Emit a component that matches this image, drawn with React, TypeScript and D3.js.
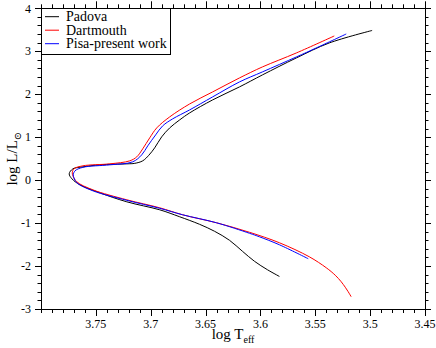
import React, { useEffect, useRef } from 'react';
import * as d3 from 'd3';

// isochrone tracks, [log Teff, log L/Lsun], from lower main sequence up to RGB tip
const padova: [number, number][] = [
  [3.5827, -2.242], [3.5936, -2.086], [3.6055, -1.888], [3.6164, -1.656], [3.6282, -1.400],
  [3.6418, -1.191], [3.6555, -1.028], [3.6736, -0.853], [3.6918, -0.691], [3.7218, -0.505],
  [3.7464, -0.295], [3.7645, -0.109], [3.7718, 0.030], [3.7743, 0.147], [3.7709, 0.263],
  [3.7618, 0.309], [3.7464, 0.356], [3.7218, 0.379], [3.7145, 0.391], [3.7073, 0.449],
  [3.7018, 0.577], [3.6964, 0.751], [3.6900, 1.007], [3.6827, 1.216], [3.6736, 1.402],
  [3.6645, 1.565], [3.6436, 1.867], [3.6191, 2.170], [3.5982, 2.449], [3.5673, 2.844],
  [3.5373, 3.193], [3.4982, 3.484],
];

const dartmouth: [number, number][] = [
  [3.5173, -2.714], [3.5200, -2.598], [3.5227, -2.493], [3.5264, -2.365], [3.5318, -2.214],
  [3.5400, -2.040], [3.5555, -1.784], [3.5827, -1.458], [3.6100, -1.214], [3.6400, -0.993],
  [3.6709, -0.807], [3.6918, -0.644], [3.7218, -0.458], [3.7527, -0.226], [3.7673, -0.040],
  [3.7709, 0.100], [3.7715, 0.170], [3.7700, 0.263], [3.7618, 0.333], [3.7373, 0.379],
  [3.7191, 0.449], [3.7127, 0.542], [3.7073, 0.728], [3.7009, 0.984], [3.6945, 1.216],
  [3.6827, 1.472], [3.6645, 1.774], [3.6436, 2.053], [3.6191, 2.379], [3.5982, 2.635],
  [3.5673, 2.960], [3.5327, 3.356],
];

const pisa: [number, number][] = [
  [3.5564, -1.830], [3.5827, -1.505], [3.6009, -1.319], [3.6100, -1.237], [3.6400, -0.993],
  [3.6709, -0.807], [3.6918, -0.656], [3.7218, -0.470], [3.7527, -0.249], [3.7673, -0.063],
  [3.7700, 0.053], [3.7706, 0.123], [3.7690, 0.216], [3.7618, 0.298], [3.7373, 0.356],
  [3.7164, 0.426], [3.7082, 0.588], [3.7027, 0.798], [3.6955, 1.053], [3.6891, 1.263],
  [3.6800, 1.426], [3.6645, 1.635], [3.6436, 1.937], [3.6191, 2.286], [3.5982, 2.519],
  [3.5673, 2.867], [3.5491, 3.077], [3.5218, 3.402],
];

const seriesNames = ['Padova', 'Dartmouth', 'Pisa-present work'];
const seriesColors = ['#000000', '#ff0000', '#0000ff'];
const xTickValues = [3.75, 3.7, 3.65, 3.6, 3.55, 3.5, 3.45];
const yTickValues = [-3, -2, -1, 0, 1, 2, 3, 4];

const W = 436;
const H = 348;
const FONT = 'Liberation Serif, DejaVu Serif, serif';

const App = () => {
  const svgRef = useRef<SVGSVGElement>(null);

  useEffect(() => {
    const svg = d3.select(svgRef.current);
    svg.selectAll('*').remove();

    const left = 41, right = 425, top = 8.3, bottom = 309;
    const x = d3.scaleLinear().domain([3.8, 3.45]).range([left, right]);
    const y = d3.scaleLinear().domain([-3, 4]).range([bottom, top]);

    svg.append('rect').attr('width', W).attr('height', H).attr('fill', '#fff');

    // minor + major ticks, all pointing outward
    const minorX = d3.range(0, 36).map(i => 3.45 + i * 0.01);
    const minorY = d3.range(0, 36).map(i => -3 + i * 0.2);
    const tickG = svg.append('g').attr('stroke', '#000').attr('stroke-width', 1);
    const isMajorX = (v: number) => xTickValues.some(t => Math.abs(t - v) < 1e-6);
    const isMajorY = (v: number) => yTickValues.some(t => Math.abs(t - v) < 1e-6);

    minorX.forEach(v => {
      const len = isMajorX(v) ? 7 : 4;
      const px = Math.round(x(v)) + 0.5;
      tickG.append('line').attr('x1', px).attr('x2', px).attr('y1', bottom).attr('y2', bottom + len);
      tickG.append('line').attr('x1', px).attr('x2', px).attr('y1', top).attr('y2', top - len);
    });
    minorY.forEach(v => {
      const len = isMajorY(v) ? 6 : 3.5;
      const py = Math.round(y(v)) + 0.5;
      tickG.append('line').attr('y1', py).attr('y2', py).attr('x1', left).attr('x2', left - len);
      tickG.append('line').attr('y1', py).attr('y2', py).attr('x1', right).attr('x2', right + len);
    });

    // tick labels
    svg.append('g').selectAll('text').data(xTickValues).enter().append('text')
      .attr('x', d => x(d)).attr('y', 328)
      .attr('text-anchor', 'middle')
      .attr('font-family', FONT).attr('font-size', 12)
      .text(d => String(d));

    svg.append('g').selectAll('text').data(yTickValues).enter().append('text')
      .attr('x', 31).attr('y', d => y(d)).attr('dy', '0.35em')
      .attr('text-anchor', 'end')
      .attr('font-family', FONT).attr('font-size', 12)
      .text(d => String(d));

    // curves
    const line = d3.line<[number, number]>()
      .x(d => x(d[0]))
      .y(d => y(d[1]))
      .curve(d3.curveCatmullRom.alpha(0.5));

    [padova, dartmouth, pisa].forEach((s, i) => {
      svg.append('path')
        .attr('d', line(s))
        .attr('fill', 'none')
        .attr('stroke', seriesColors[i])
        .attr('stroke-width', 1);
    });

    // frame
    svg.append('rect')
      .attr('x', left + 0.5).attr('y', Math.round(top) + 0.5)
      .attr('width', right - left).attr('height', bottom - Math.round(top))
      .attr('fill', 'none').attr('stroke', '#000').attr('stroke-width', 1);

    // legend
    const lg = svg.append('g');
    lg.append('rect')
      .attr('x', left + 0.5).attr('y', Math.round(top) + 0.5)
      .attr('width', 129).attr('height', 46)
      .attr('fill', '#fff').attr('stroke', '#000').attr('stroke-width', 1);
    seriesNames.forEach((name, i) => {
      const cy = 16.7 + i * 13.5;
      lg.append('line')
        .attr('x1', 45).attr('x2', 59).attr('y1', cy).attr('y2', cy)
        .attr('stroke', seriesColors[i]).attr('stroke-width', 1);
      lg.append('text')
        .attr('x', 66).attr('y', cy + 4.3)
        .attr('font-family', FONT).attr('font-size', 14)
        .text(name);
    });

    // axis titles
    const xt = svg.append('text')
      .attr('x', (left + right) / 2).attr('y', 339)
      .attr('text-anchor', 'middle')
      .attr('font-family', FONT).attr('font-size', 15);
    xt.append('tspan').text('log T');
    xt.append('tspan').attr('dy', 4).attr('font-size', 10).text('eff');

    const yt = svg.append('text')
      .attr('transform', `translate(17, ${(top + bottom) / 2}) rotate(-90)`)
      .attr('text-anchor', 'middle')
      .attr('font-family', FONT).attr('font-size', 15);
    yt.append('tspan').text('log L/L');
    yt.append('tspan').attr('dy', 4).attr('font-size', 10).text('\u2299');
  }, []);

  return (
    <svg ref={svgRef} width={W} height={H} style={{ position: 'absolute', left: 0, top: 0 }}></svg>
  );
};

export default App;
